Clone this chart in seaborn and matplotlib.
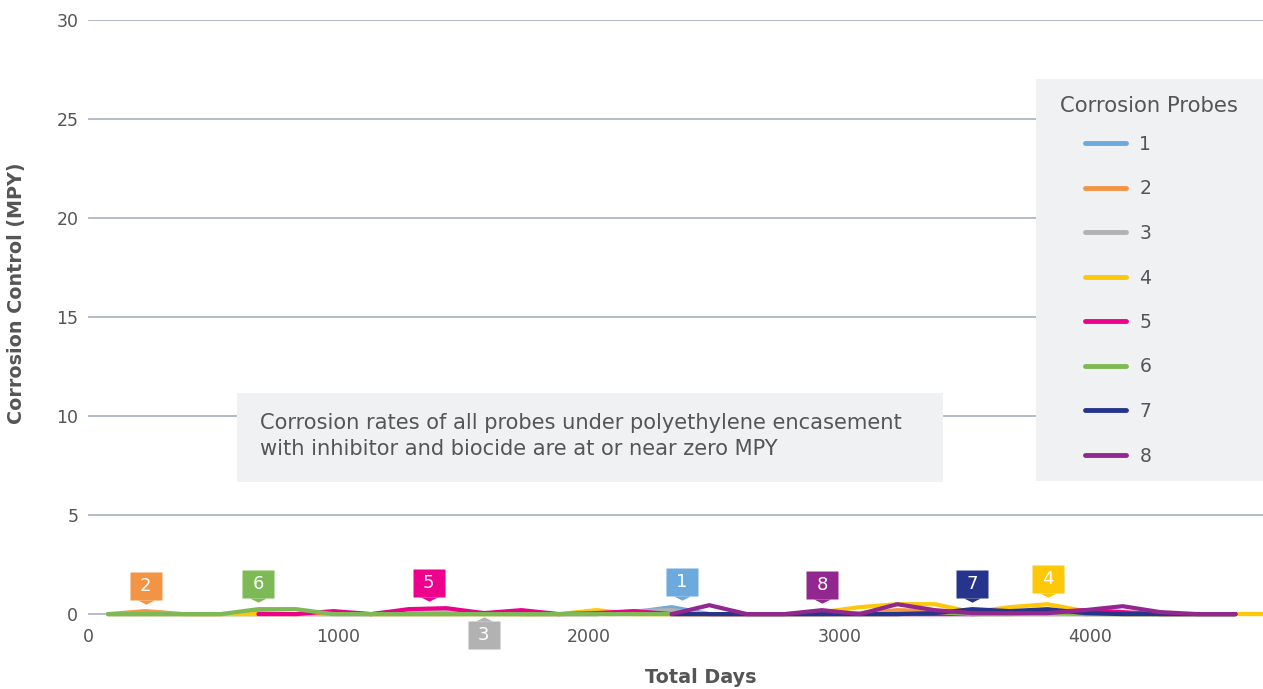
import numpy as np
import matplotlib
matplotlib.use('Agg')
import matplotlib.pyplot as plt
import matplotlib.transforms as mtrans
from matplotlib.patches import Rectangle
from matplotlib.path import Path
from matplotlib.lines import Line2D
import pandas as pd
import seaborn as sns

# measurement days (last one only used by probe 4, runs past the axis end)
days = [80, 230, 380, 530, 680, 830, 980, 1130, 1280, 1430,
        1580, 1730, 1880, 2030, 2180, 2330, 2480, 2630, 2780, 2930,
        3080, 3230, 3380, 3530, 3680, 3830, 3980, 4130, 4280, 4430,
        4580, 4730]

nan = np.nan
probe_1 = [0, 0, 0, 0, 0, 0, 0, 0, 0, 0, 0, 0, 0, 0, 0.1, 0.35,
           0, 0, 0, 0, 0, 0, 0, 0, 0, 0, 0, 0, 0, 0, 0, nan]
probe_2 = [0, 0.15, 0, 0, 0.05, 0, 0, 0, 0, 0, 0, 0, 0, 0, 0, 0,
           0, 0, 0, 0, 0.05, 0.2, 0.15, 0, 0, 0, 0, 0, 0, 0, 0, nan]
probe_3 = [0, 0, 0, 0, 0, 0, 0, 0, 0.1, 0.15, 0.05, 0, 0, 0, 0.15, 0.2,
           0, 0, 0, 0, 0, 0, 0, 0, 0, 0, 0, 0, 0, 0, 0, nan]
probe_4 = [0, 0, 0, 0, 0, 0, 0.05, 0, 0, 0, 0, 0, 0, 0.2, 0, 0,
           0, 0, 0, 0.1, 0.35, 0.5, 0.5, 0.1, 0.35, 0.5, 0.15, 0, 0, 0, 0, 0]
probe_5 = [nan, nan, nan, nan, 0, 0, 0.15, 0, 0.25, 0.3, 0.05, 0.2, 0, 0.05, 0.15, 0,
           0, 0, 0, 0, 0, 0, 0, 0, 0.05, 0.1, 0.2, 0.1, 0, 0, 0, nan]
probe_6 = [0, 0, 0, 0, 0.25, 0.25, 0, 0, 0, 0, 0, 0, 0, 0, 0, 0,
           0, 0, 0, 0, 0, 0, 0.1, 0, 0, 0.1, 0, 0, 0, 0, 0, nan]
probe_7 = [nan, nan, nan, nan, nan, nan, nan, nan, nan, nan, nan, nan, nan, nan, nan, 0,
           0, 0, 0, 0, 0, 0, 0.05, 0.25, 0.15, 0.25, 0.05, 0, 0, 0, 0, nan]
probe_8 = [nan, nan, nan, nan, nan, nan, nan, nan, nan, nan, nan, nan, nan, nan, nan, 0,
           0.45, 0, 0, 0.2, 0, 0.5, 0.2, 0.05, 0.05, 0.05, 0.2, 0.4, 0.1, 0, 0, nan]

probes = ['1', '2', '3', '4', '5', '6', '7', '8']
colors = ['#6CA9DC', '#F39444', '#B2B2B2', '#FDC70A', '#EC008C', '#7DBA55', '#27348B', '#92278F']

# callout flags: probe, day, value, placed above (True) or below
callouts = [('2', 230, 0.15, True), ('6', 680, 0.25, True), ('5', 1360, 0.3, True),
            ('3', 1580, 0.05, False), ('1', 2370, 0.35, True), ('8', 2930, 0.2, True),
            ('7', 3530, 0.25, True), ('4', 3830, 0.5, True)]

note = 'Corrosion rates of all probes under polyethylene encasement\nwith inhibitor and biocide are at or near zero MPY'

rows = []
for name, vals in zip(probes, [probe_1, probe_2, probe_3, probe_4, probe_5, probe_6, probe_7, probe_8]):
    for d, v in zip(days, vals):
        rows.append((name, d, v))
df = pd.DataFrame(rows, columns=['probe', 'day', 'mpy']).dropna()

sns.set_style('white')
plt.rcParams['font.family'] = ['DejaVu Sans']
txt = '#555555'
grid_c = '#A7B0C0'
box_c = '#F0F1F3'

fig = plt.figure(figsize=(12.63, 6.89), dpi=100)
W, H = 1263, 689
ax = fig.add_axes([88 / W, 65 / H, 1175 / W, 604 / H])

sns.lineplot(data=df, x='day', y='mpy', hue='probe', hue_order=probes,
             palette=dict(zip(probes, colors)), linewidth=3, legend=False, ax=ax)

ax.set_xlim(0, 4690)
ax.set_ylim(-0.5, 30)
ax.set_yticks([0, 5, 10, 15, 20, 25, 30])
ax.set_xticks([0, 1000, 2000, 3000, 4000])
for y in [0, 5, 10, 15, 20, 25, 30]:
    ax.axhline(y, color=grid_c, lw=1.2, zorder=0)
for s in ax.spines.values():
    s.set_visible(False)
ax.tick_params(axis='both', length=0, labelsize=12.5, colors=txt)
ax.tick_params(axis='y', pad=7)
ax.tick_params(axis='x', pad=3)

ax.set_xlabel('Total Days', fontsize=13.8, fontweight='bold', color=txt)
ax.set_ylabel('Corrosion Control (MPY)', fontsize=13.8, fontweight='bold', color=txt)
ax.xaxis.set_label_coords((701 - 88) / 1175, -(668 - 624) / 604)
ax.yaxis.set_label_coords((26 - 88) / 1175, (624 - 293) / 604)

# callouts
tri_down = Path([(-1, 0), (1, 0), (0, -0.5), (-1, 0)])
tri_up = Path([(-1, 0), (1, 0), (0, 0.5), (-1, 0)])
flag = Path([(-1, -0.875), (1, -0.875), (1, 0.875), (-1, 0.875), (-1, -0.875)])
for name, d, v, above in callouts:
    c = colors[probes.index(name)]
    if above:
        t_tri = mtrans.offset_copy(ax.transData, fig, x=0, y=11, units='dots')
        t_box = mtrans.offset_copy(ax.transData, fig, x=0, y=25, units='dots')
        mk = tri_down
    else:
        t_tri = mtrans.offset_copy(ax.transData, fig, x=0, y=-8, units='dots')
        t_box = mtrans.offset_copy(ax.transData, fig, x=0, y=-22, units='dots')
        mk = tri_up
    ax.plot([d], [v], marker=mk, markersize=12, color=c, mec='none', transform=t_tri,
            zorder=5, clip_on=False)
    ax.plot([d], [v], marker=flag, markersize=23, color=c, mec='none', transform=t_box,
            zorder=5, clip_on=False)
    ax.text(d, v, name, transform=t_box, ha='center', va='center', color='white',
            fontsize=13, zorder=6, clip_on=False)

# note box
fig.patches.append(Rectangle((237 / W, 1 - 482 / H), (943 - 237) / W, (482 - 393) / H,
                             transform=fig.transFigure, fc=box_c, ec='none', zorder=1))
fig.text(260 / W, 1 - 436 / H, note, fontsize=15.1, color=txt, va='center', ha='left',
         linespacing=1.43, zorder=2)

# legend
fig.patches.append(Rectangle((1036 / W, 1 - 481 / H), (W - 1036) / W, (481 - 79) / H,
                             transform=fig.transFigure, fc=box_c, ec='none', zorder=1))
fig.text(1149 / W, 1 - 106 / H, 'Corrosion Probes', fontsize=15.2, color=txt,
         ha='center', va='center', zorder=2)
handles = [Line2D([0], [0], color=c, lw=3.5, solid_capstyle='round') for c in colors]
leg = fig.legend(handles, probes, loc='upper left', bbox_to_anchor=(1085 / W, 1 - 135 / H),
                 bbox_transform=fig.transFigure, frameon=False, fontsize=13.5,
                 handlelength=2.2, handletextpad=0.7, labelspacing=1.36,
                 borderpad=0, borderaxespad=0)
for t in leg.get_texts():
    t.set_color(txt)

fig.savefig('out.png', dpi=100)
